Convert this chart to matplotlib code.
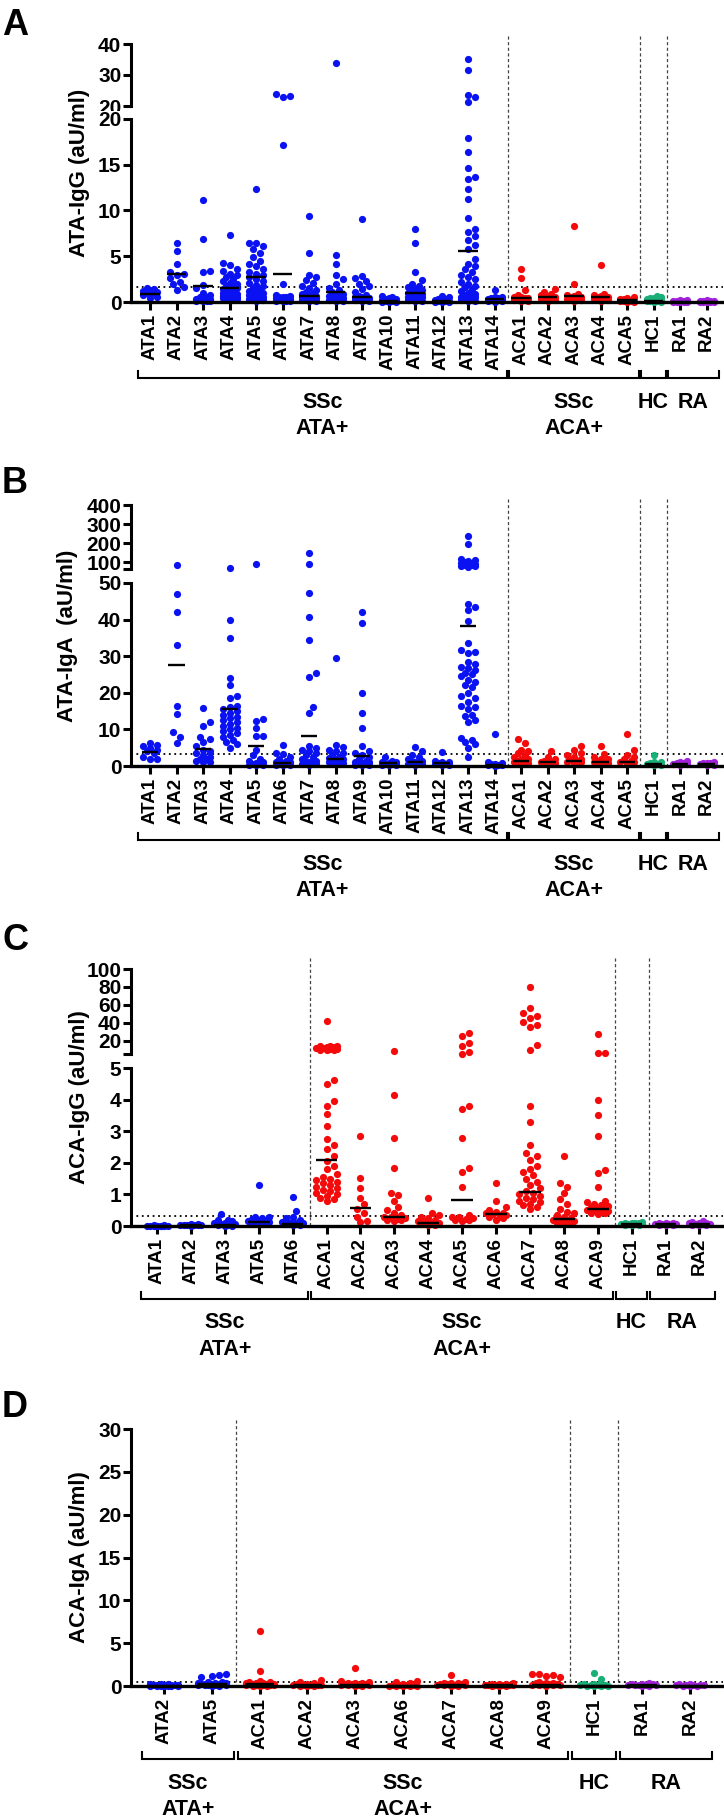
import numpy as np
import matplotlib.pyplot as plt
from matplotlib.transforms import blended_transform_factory

plt.rcParams['font.family'] = ['Liberation Sans', 'DejaVu Sans']
plt.rcParams['font.weight'] = 'bold'

# ---------------- panel A: ATA-IgG ----------------
cats_a = ['ATA1', 'ATA2', 'ATA3', 'ATA4', 'ATA5', 'ATA6', 'ATA7', 'ATA8', 'ATA9', 'ATA10',
          'ATA11', 'ATA12', 'ATA13', 'ATA14', 'ACA1', 'ACA2', 'ACA3', 'ACA4', 'ACA5',
          'HC1', 'RA1', 'RA2']
vals_a = [
    [1.5, 1.4, 1.3, 1.2, 1.1, 1.0, 0.95, 0.9, 0.8, 0.6, 0.4],
    [6.5, 5.6, 4.1, 3.3, 3.1, 2.9, 2.6, 2.2, 2.0, 1.6, 1.3],
    [11.2, 6.9, 3.4, 3.3, 1.9, 1.5, 1.0, 0.8, 0.6, 0.5, 0.4, 0.3, 0.3, 0.2, 0.2, 0.2, 0.1, 0.1, 0.1, 0.1],
    [7.3, 4.3, 4.0, 3.6, 3.4, 3.1, 2.9, 2.7, 2.5, 2.3, 2.1, 2.0, 1.8, 1.7, 1.6, 1.5, 1.4, 1.3, 1.2,
     1.1, 1.0, 0.9, 0.9, 0.8, 0.8, 0.7, 0.7, 0.6, 0.6, 0.5, 0.5, 0.4, 0.3, 0.2],
    [12.4, 6.5, 6.5, 6.1, 5.8, 5.4, 4.9, 4.5, 4.2, 3.9, 3.6, 3.3, 3.1, 2.9, 2.7, 2.5, 2.3, 2.1, 1.9,
     1.7, 1.5, 1.4, 1.2, 1.1, 1.0, 0.9, 0.9, 0.8, 0.7, 0.6, 0.5, 0.4, 0.3, 0.2, 0.1],
    [24.0, 23.3, 22.8, 17.2, 2.0, 0.8, 0.7, 0.6, 0.5, 0.5, 0.4, 0.3, 0.3, 0.2, 0.2, 0.1, 0.1, 0.1, 0.1],
    [9.4, 5.4, 3.0, 2.7, 2.4, 2.1, 1.8, 1.5, 1.3, 1.1, 1.0, 0.9, 0.8, 0.7, 0.6, 0.6, 0.5, 0.5, 0.4,
     0.4, 0.3, 0.3, 0.2, 0.2, 0.1, 0.1],
    [34.0, 5.1, 4.2, 3.0, 2.5, 2.0, 1.5, 1.3, 1.1, 0.9, 0.8, 0.7, 0.5, 0.4, 0.3, 0.3, 0.2, 0.2, 0.1, 0.1],
    [9.1, 2.8, 2.6, 2.3, 2.0, 1.7, 1.4, 1.1, 0.8, 0.7, 0.6, 0.5, 0.4, 0.4, 0.3, 0.3, 0.2, 0.2, 0.1, 0.1],
    [0.7, 0.5, 0.4, 0.3, 0.3, 0.2, 0.2, 0.2, 0.1, 0.1, 0.1, 0.1, 0.05, 0.05, 0.0],
    [8.0, 6.5, 3.3, 2.4, 2.0, 1.8, 1.6, 1.4, 1.3, 1.2, 1.1, 1.0, 0.9, 0.9, 0.8, 0.7, 0.6, 0.5, 0.4,
     0.3, 0.2, 0.2, 0.1, 0.1],
    [0.7, 0.5, 0.3, 0.3, 0.2, 0.2, 0.15, 0.1, 0.1, 0.1, 0.05, 0.05, 0.0],
    [35.3, 31.5, 23.5, 22.8, 21.4, 17.9, 16.4, 14.6, 13.7, 13.4, 12.4, 11.3, 9.2, 8.0, 7.6, 7.2, 6.8,
     6.2, 5.8, 4.7, 4.2, 3.9, 3.6, 3.3, 3.0, 2.7, 2.5, 2.2, 2.0, 1.8, 1.6, 1.4, 1.2, 1.0, 0.9, 0.8,
     0.7, 0.6, 0.5, 0.4, 0.3, 0.2, 0.2, 0.1, 0.1],
    [1.35, 0.6, 0.5, 0.45, 0.4, 0.3, 0.3, 0.25, 0.2, 0.2, 0.1, 0.1, 0.05],
    [3.6, 2.6, 1.3, 0.8, 0.6, 0.5, 0.4, 0.4, 0.3, 0.3, 0.2, 0.2, 0.1, 0.1],
    [1.4, 1.1, 0.9, 0.8, 0.7, 0.6, 0.5, 0.4, 0.3, 0.2, 0.1],
    [8.3, 1.95, 0.9, 0.8, 0.7, 0.6, 0.5, 0.4, 0.3, 0.2, 0.1],
    [4.0, 0.9, 0.8, 0.7, 0.6, 0.5, 0.4, 0.3, 0.2, 0.1],
    [0.5, 0.4, 0.35, 0.3, 0.25, 0.2, 0.2, 0.15, 0.1, 0.1, 0.05, 0.05],
    [0.7, 0.5, 0.45, 0.4, 0.3, 0.3, 0.2, 0.2, 0.15, 0.1, 0.1, 0.05, 0.05],
    [0.2, 0.18, 0.15, 0.12, 0.1, 0.1, 0.08, 0.05, 0.05, 0.03, 0.0, 0.0],
    [0.2, 0.16, 0.14, 0.1, 0.1, 0.08, 0.05, 0.05, 0.03, 0.0, 0.0],
]
med_a = [0.9, 3.1, 1.8, 1.55, 2.7, 3.1, 0.7, 1.1, 0.5, 0.15, 1.0, 0.1, 5.6, 0.3,
         0.4, 0.6, 0.65, 0.5, 0.2, 0.15, 0.05, 0.05]
cut_a = 1.65

# ---------------- panel B: ATA-IgA ----------------
cats_b = cats_a
vals_b = [
    [6.3, 5.8, 5.5, 5.0, 4.5, 4.0, 3.5, 2.5, 2.0, 1.8],
    [83, 47.0, 42.0, 33.0, 16.3, 14.3, 9.2, 8.0, 6.3],
    [15.9, 12.0, 11.0, 8.0, 7.5, 6.5, 5.5, 4.5, 4.0, 3.5, 3.0, 2.5, 2.0, 1.8, 1.5, 1.2, 1.0],
    [68, 39.8, 35.0, 24.1, 22.0, 19.0, 18.5, 16.5, 16.0, 15.5, 15.0, 14.5, 14.0, 13.5, 13.0, 12.5,
     12.0, 11.5, 11.0, 10.5, 10.0, 9.5, 9.0, 8.5, 8.0, 7.0, 6.5, 6.0, 5.0],
    [90, 12.8, 12.2, 10.3, 8.3, 8.2, 4.5, 3.0, 2.0, 1.5, 1.0, 0.8, 0.6, 0.5, 0.4, 0.3, 0.2],
    [5.7, 3.5, 3.2, 2.5, 2.0, 1.5, 1.2, 1.0, 0.8, 0.6, 0.5, 0.4, 0.3, 0.2],
    [150, 90, 47.4, 40.6, 34.3, 25.4, 24.2, 16.0, 14.5, 5.5, 5.0, 4.5, 4.0, 3.5, 3.0, 2.5, 2.0, 1.5,
     1.2, 1.0, 0.8, 0.6, 0.5, 0.4],
    [29.6, 5.7, 5.2, 4.5, 4.0, 3.5, 3.0, 2.5, 2.2, 2.0, 1.8, 1.5, 1.2, 1.0, 0.8, 0.5],
    [42.0, 39.2, 20.0, 14.5, 10.5, 5.5, 4.0, 3.5, 3.0, 2.5, 2.0, 1.5, 1.2, 1.0, 0.8, 0.6, 0.5, 0.4,
     0.3, 0.2],
    [2.5, 1.5, 1.2, 1.0, 0.8, 0.6, 0.5, 0.4, 0.3, 0.2],
    [5.3, 4.2, 3.0, 2.5, 2.0, 1.5, 1.2, 1.0, 0.8, 0.6, 0.5, 0.4],
    [3.9, 1.5, 1.2, 1.0, 0.8, 0.6, 0.5, 0.4, 0.3],
    [238, 194, 118, 110, 104, 100, 98, 95, 92, 90, 88, 85, 82, 78, 75,
     44.3, 43.5, 42.5, 39.7, 33.7, 31.7, 31.2, 30.8, 28.5, 28.0, 27.0, 26.7, 26.2, 25.5, 25.0, 24.5,
     23.5, 23.0, 22.1, 21.5, 19.9, 19.0, 18.5, 17.6, 16.5, 16.0, 15.5, 14.0, 13.6, 12.6, 12.0, 7.6,
     7.0, 6.5, 6.0, 5.0, 2.5],
    [8.7, 1.2, 0.9, 0.6, 0.5, 0.4, 0.3, 0.2, 0.1],
    [7.3, 6.2, 4.5, 4.0, 3.5, 3.0, 2.5, 2.0, 1.8, 1.5, 1.2, 1.0, 0.8, 0.6],
    [4.2, 2.5, 2.0, 1.5, 1.2, 1.0, 0.8, 0.5],
    [5.5, 4.5, 3.6, 3.0, 2.5, 2.0, 1.8, 1.5, 1.2, 1.0, 0.8],
    [5.5, 3.3, 2.5, 2.0, 1.8, 1.5, 1.2, 1.0, 0.8, 0.6],
    [8.7, 4.4, 3.0, 2.5, 2.0, 1.5, 1.2, 1.0, 0.8],
    [2.9, 1.2, 1.0, 0.8, 0.6, 0.5, 0.4, 0.3],
    [1.3, 1.0, 0.9, 0.8, 0.6, 0.5, 0.4],
    [1.2, 0.9, 0.8, 0.7, 0.5, 0.4, 0.3],
]
med_b = [3.9, 27.7, 4.6, 15.7, 5.5, 0.7, 8.2, 1.9, 2.8, 0.8, 1.0, 0.7, 38.3, 0.4,
         1.5, 1.0, 1.5, 1.2, 1.2, 0.5, 0.6, 0.5]
cut_b = 3.2

# ---------------- panel C: ACA-IgG ----------------
cats_c = ['ATA1', 'ATA2', 'ATA3', 'ATA5', 'ATA6', 'ACA1', 'ACA2', 'ACA3', 'ACA4', 'ACA5',
          'ACA6', 'ACA7', 'ACA8', 'ACA9', 'HC1', 'RA1', 'RA2']
vals_c = [
    [0.02, 0.02, 0.015, 0.01, 0.01, 0.005, 0.0, 0.0, 0.0, 0.0, 0.0],
    [0.06, 0.05, 0.045, 0.04, 0.03, 0.025, 0.02, 0.02, 0.01],
    [0.37, 0.2, 0.18, 0.15, 0.1, 0.08, 0.06, 0.05, 0.03, 0.02, 0.01, 0.01],
    [1.31, 0.3, 0.28, 0.25, 0.22, 0.2, 0.18, 0.16, 0.15, 0.13, 0.12, 0.1, 0.08, 0.06],
    [0.92, 0.48, 0.3, 0.25, 0.2, 0.15, 0.12, 0.1, 0.08, 0.06, 0.05, 0.03, 0.02],
    [42, 14.5, 14.0, 13.5, 13.0, 12.5, 12.0, 11.5, 11.0, 10.5, 10.0, 9.5, 9.0,
     4.62, 4.5, 3.95, 3.8, 3.55, 3.15, 2.75, 2.55, 2.45, 2.2, 2.05, 1.9, 1.8, 1.65, 1.55, 1.5,
     1.45, 1.4, 1.35, 1.3, 1.25, 1.2, 1.15, 1.1, 1.05, 1.0, 0.95, 0.9, 0.85, 0.8],
    [2.86, 1.52, 1.2, 0.9, 0.7, 0.55, 0.4, 0.3, 0.15, 0.12],
    [8.0, 4.15, 2.8, 1.82, 1.05, 0.98, 0.8, 0.6, 0.5, 0.4, 0.35, 0.3, 0.28, 0.25, 0.22, 0.2, 0.18, 0.15],
    [0.88, 0.4, 0.35, 0.3, 0.25, 0.2, 0.15, 0.12, 0.1, 0.08, 0.05, 0.03, 0.02],
    [28.8, 25.1, 17.0, 14.0, 7.6, 5.5, 3.8, 3.7, 2.8, 1.85, 1.7, 1.22, 0.35, 0.3, 0.28, 0.25, 0.22,
     0.2, 0.18, 0.15],
    [1.35, 0.8, 0.6, 0.5, 0.45, 0.42, 0.4, 0.38, 0.35, 0.3, 0.28, 0.25, 0.2],
    [80, 56, 51, 47, 45, 41, 37, 35, 15, 9, 3.8, 3.3, 2.56, 2.3, 2.2, 2.1, 1.9, 1.8, 1.7, 1.6, 1.5,
     1.4, 1.3, 1.2, 1.1, 1.05, 1.0, 0.95, 0.9, 0.85, 0.8, 0.75, 0.7, 0.65, 0.6, 0.55],
    [2.22, 1.35, 1.25, 1.05, 0.85, 0.7, 0.55, 0.45, 0.4, 0.35, 0.3, 0.25, 0.2, 0.18, 0.15, 0.12,
     0.1, 0.08, 0.05],
    [27.4, 6.5, 5.8, 4.0, 3.5, 2.85, 1.77, 1.67, 1.22, 0.8, 0.75, 0.7, 0.65, 0.62, 0.6, 0.58, 0.55,
     0.52, 0.5, 0.48, 0.45, 0.42, 0.4, 0.38],
    [0.12, 0.11, 0.1, 0.09, 0.08, 0.07, 0.06, 0.05, 0.05, 0.04, 0.03, 0.02],
    [0.1, 0.09, 0.08, 0.07, 0.06, 0.05, 0.05, 0.04, 0.03, 0.02],
    [0.15, 0.12, 0.1, 0.09, 0.08, 0.06, 0.05, 0.05, 0.04, 0.03, 0.02],
]
med_c = [0.0, 0.02, 0.03, 0.13, 0.05, 2.1, 0.57, 0.3, 0.1, 0.82, 0.38, 1.07, 0.22, 0.53,
         0.05, 0.05, 0.05]
cut_c = 0.32

# ---------------- panel D: ACA-IgA ----------------
cats_d = ['ATA2', 'ATA5', 'ACA1', 'ACA2', 'ACA3', 'ACA6', 'ACA7', 'ACA8', 'ACA9', 'HC1', 'RA1', 'RA2']
vals_d = [
    [0.25, 0.2, 0.18, 0.15, 0.12, 0.1, 0.1, 0.08, 0.06, 0.05, 0.05, 0.04, 0.03, 0.02, 0.01, 0.0],
    [1.4, 1.3, 1.2, 1.0, 0.5, 0.45, 0.4, 0.35, 0.3, 0.28, 0.25, 0.22, 0.2, 0.18, 0.15, 0.12, 0.1,
     0.1, 0.08, 0.05, 0.03],
    [6.45, 1.8, 0.6, 0.5, 0.45, 0.4, 0.35, 0.3, 0.28, 0.25, 0.22, 0.2, 0.18, 0.15, 0.12, 0.1, 0.1,
     0.08, 0.05, 0.03, 0.02],
    [0.7, 0.5, 0.3, 0.25, 0.2, 0.15, 0.12, 0.1, 0.1, 0.08, 0.05, 0.04, 0.02],
    [2.06, 0.6, 0.5, 0.4, 0.35, 0.3, 0.25, 0.2, 0.18, 0.15, 0.12, 0.1, 0.08, 0.05, 0.03],
    [0.6, 0.45, 0.3, 0.2, 0.15, 0.1, 0.08, 0.06, 0.05, 0.04, 0.03, 0.02, 0.0],
    [1.28, 0.5, 0.4, 0.35, 0.3, 0.25, 0.2, 0.18, 0.15, 0.12, 0.1, 0.08, 0.05, 0.03],
    [0.3, 0.25, 0.2, 0.18, 0.15, 0.12, 0.1, 0.1, 0.08, 0.06, 0.05, 0.03, 0.02],
    [1.45, 1.35, 1.25, 1.15, 1.0, 0.5, 0.4, 0.35, 0.3, 0.25, 0.2, 0.18, 0.15, 0.12, 0.1, 0.08, 0.05],
    [1.55, 0.85, 0.25, 0.2, 0.15, 0.1, 0.1, 0.08, 0.05, 0.05, 0.03, 0.02],
    [0.3, 0.25, 0.2, 0.18, 0.15, 0.12, 0.1, 0.1, 0.08, 0.05, 0.03],
    [0.25, 0.2, 0.15, 0.12, 0.1, 0.1, 0.08, 0.05, 0.05, 0.03],
]
med_d = [0.05, 0.2, 0.2, 0.1, 0.15, 0.05, 0.15, 0.1, 0.15, 0.05, 0.1, 0.05]
cut_d = 0.5

groups_a = [(['SSc', 'ATA+'], 0, 13), (['SSc', 'ACA+'], 14, 18), (['HC'], 19, 19), (['RA'], 20, 21)]
groups_c = [(['SSc', 'ATA+'], 0, 4), (['SSc', 'ACA+'], 5, 13), (['HC'], 14, 14), (['RA'], 15, 16)]
groups_d = [(['SSc', 'ATA+'], 0, 1), (['SSc', 'ACA+'], 2, 8), (['HC'], 9, 9), (['RA'], 10, 11)]

COLORS = {'ATA': '#0A12F2', 'ACA': '#F40A0A', 'HC': '#19B078', 'RA': '#A222DC'}

W, H = 724, 1817
fig = plt.figure(figsize=(W / 100, H / 100), dpi=100)
AX_L, AX_R = 131, 723


def color_of(name):
    for k in COLORS:
        if name.startswith(k):
            return COLORS[k]


def add_ax(top, bottom, z):
    ax = fig.add_axes([AX_L / W, 1 - bottom / H, (AX_R - AX_L) / W, (bottom - top) / H])
    ax.set_zorder(z)
    return ax


def swarm(ax, xc, ys, maxw, d=7.0):
    # simple beeswarm in pixel space so the dots do not pile up
    pts = ax.transData.transform(np.column_stack([np.full(len(ys), xc), ys]))
    ypx = pts[:, 1]
    cands = [0.0]
    k = 1
    while k * d / 2 <= maxw:
        cands += [k * d / 2, -k * d / 2]
        k += 1
    placed, offs = [], np.zeros(len(ys))
    for i in np.argsort(ypx):
        best, bestd = 0.0, -1
        for c in cands:
            md = min([np.hypot(c - px, ypx[i] - py) for px, py in placed], default=1e9)
            if md >= 0.92 * d:
                best = c
                break
            if md > bestd:
                bestd, best = md, c
        offs[i] = best
        placed.append((best, ypx[i]))
    ppu = ax.transData.transform([(1, 0)])[0, 0] - ax.transData.transform([(0, 0)])[0, 0]
    return xc + offs / ppu


def panel(cats, vals, meds, cut, groups, x0, step, segs, ylabel, yl_x, letter, let_y,
          sep_top, brk_y, half, maxw):
    xlim = ((AX_L - x0) / step, (AX_R - x0) / step)
    axes = []
    for j, (top, bot, lim, ticks, labels) in enumerate(segs):
        ax = add_ax(top, bot, j + 1)
        ax.set_xlim(*xlim)
        ax.set_ylim(*lim)
        ax.set_yticks(ticks)
        ax.set_yticklabels(labels)
        ax.tick_params(axis='y', length=5.5, width=2.2, labelsize=15, pad=1.5)
        for s in ('top', 'right'):
            ax.spines[s].set_visible(False)
        ax.spines['left'].set_linewidth(2.2)
        ax.patch.set_alpha(0)
        lower = j == len(segs) - 1
        if lower:
            ax.spines['bottom'].set_linewidth(2.4)
            ax.spines['bottom'].set_zorder(6)
            ax.set_xticks(range(len(cats)))
            ax.set_xticklabels(cats, rotation=90, fontsize=13.5, fontweight='bold')
            ax.tick_params(axis='x', length=5.5, width=2.2, pad=3)
            ax.axhline(cut, color='k', lw=1.3, ls=(0, (1, 2)), zorder=1)
            if len(segs) > 1:
                # top label of the lower segment covers the one of the upper segment
                ax.get_yticklabels()[-1].set_bbox(dict(facecolor='white', edgecolor='none', pad=0))
        else:
            ax.spines['bottom'].set_visible(False)
            ax.set_xticks([])
        axes.append(ax)
    low = axes[-1]
    lo_max = segs[-1][2][1]

    for i, (name, v, m) in enumerate(zip(cats, vals, meds)):
        v = np.asarray(v, float)
        for ax in axes:
            sel = v <= lo_max if ax is low else v > lo_max
            if sel.sum() == 0:
                continue
            xs = swarm(ax, i, v[sel], maxw)
            ax.scatter(xs, v[sel], s=27, color=color_of(name), lw=0, zorder=3, clip_on=False)
        mx = low if m <= lo_max else axes[0]
        mx.hlines(m, i - half, i + half, color='k', lw=1.7, zorder=5)

    ftr = blended_transform_factory(low.transData, fig.transFigure)
    bot_px = segs[-1][1]
    seps = [g[2] + 0.5 for g in groups[:-1]]
    for s in seps:
        low.plot([s, s], [1 - sep_top / H, 1 - bot_px / H], transform=ftr, color='#444444',
                 lw=0.9, ls=(0, (2.5, 2)), clip_on=False, zorder=1)

    yb = 1 - brk_y / H
    yt = 1 - (brk_y - 7) / H
    for lines, a, b in groups:
        x1, x2 = a - 0.46, b + 0.46
        low.plot([x1, x1, x2, x2], [yt, yb, yb, yt], transform=ftr, color='k', lw=1.5,
                 clip_on=False, solid_joinstyle='miter')
        for k, t in enumerate(lines):
            low.text((a + b) / 2, 1 - (brk_y + 24 + 26 * k) / H, t, transform=ftr, ha='center',
                     va='center', fontsize=15.5, fontweight='bold')

    top_px = segs[0][0]
    fig.text(yl_x / W, 1 - (top_px + bot_px) / 2 / H, ylabel, rotation=90, ha='center',
             va='center', fontsize=16, fontweight='bold')
    fig.text(2 / W, 1 - let_y / H, letter, fontsize=26, fontweight='bold', va='baseline')


panel(cats_a, vals_a, med_a, cut_a, groups_a, 150, 26.5,
      [(44, 106, (20, 40), [20, 30, 40], ['20', '30', '40']),
       (119, 302, (0, 20), [0, 5, 10, 15, 20], ['0', '5', '10', '15', '20'])],
      'ATA-IgG (aU/ml)', 80, 'A', 35, 36, 378, 0.37, 9.5)

panel(cats_b, vals_b, med_b, cut_b, groups_a, 150, 26.5,
      [(505, 569.5, (62, 400), [62, 100, 200, 300, 400], ['', '100', '200', '300', '400']),
       (583, 766, (0, 50), [0, 10, 20, 30, 40, 50], ['0', '10', '20', '30', '40', '50'])],
      'ATA-IgA  (aU/ml)', 68, 'B', 493, 499, 840, 0.32, 9.5)

panel(cats_c, vals_c, med_c, cut_c, groups_c, 157, 33.9,
      [(969, 1054, (5, 100), [5, 20, 40, 60, 80, 100], ['', '20', '40', '60', '80', '100']),
       (1068, 1226, (0, 5), [0, 1, 2, 3, 4, 5], ['0', '1', '2', '3', '4', '5'])],
      'ACA-IgG (aU/ml)', 80, 'C', 950, 958, 1299, 0.32, 10.5)

panel(cats_d, vals_d, med_d, cut_d, groups_d, 164, 47.8,
      [(1429, 1686, (0, 30), [0, 5, 10, 15, 20, 25, 30], ['0', '5', '10', '15', '20', '25', '30'])],
      'ACA-IgA (aU/ml)', 80, 'D', 1417, 1420, 1759, 0.31, 14)

fig.savefig('out.png', dpi=100)
